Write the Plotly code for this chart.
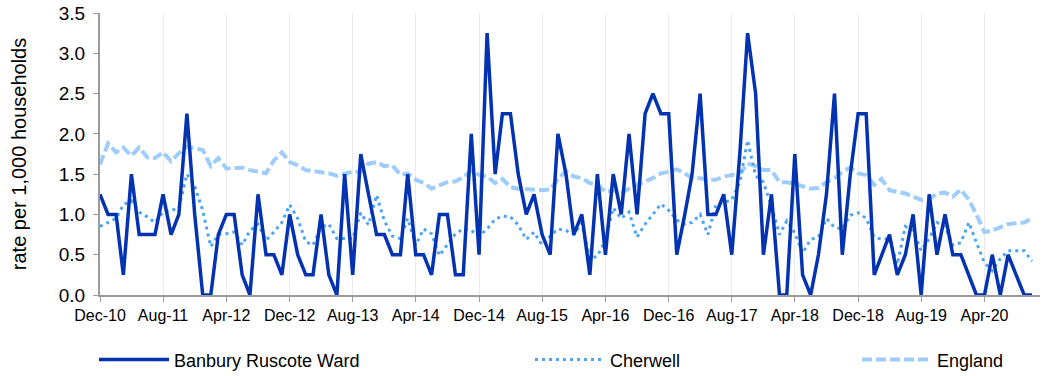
import pandas as pd
import plotly.graph_objects as go

# Monthly rates per 1,000 households, Dec 2010 – Oct 2020
months = pd.date_range("2010-12-01", periods=119, freq="MS")

banbury_ruscote = [
    1.25, 1.0, 1.0, 0.25, 1.5, 0.75, 0.75, 0.75, 1.25, 0.75,
    1.0, 2.25, 1.0, 0.0, 0.0, 0.75, 1.0, 1.0, 0.25, 0.0,
    1.25, 0.5, 0.5, 0.25, 1.0, 0.5, 0.25, 0.25, 1.0, 0.25,
    0.0, 1.5, 0.25, 1.75, 1.25, 0.75, 0.75, 0.5, 0.5, 1.5,
    0.5, 0.5, 0.25, 1.0, 1.0, 0.25, 0.25, 2.0, 0.5, 3.25,
    1.5, 2.25, 2.25, 1.5, 1.0, 1.25, 0.75, 0.5, 2.0, 1.5,
    0.75, 1.0, 0.25, 1.5, 0.5, 1.5, 1.0, 2.0, 1.0, 2.25,
    2.5, 2.25, 2.25, 0.5, 1.0, 1.5, 2.5, 1.0, 1.0, 1.25,
    0.5, 1.75, 3.25, 2.5, 0.5, 1.25, 0.0, 0.0, 1.75, 0.25,
    0.0, 0.5, 1.25, 2.5, 0.5, 1.5, 2.25, 2.25, 0.25, 0.5,
    0.75, 0.25, 0.5, 1.0, 0.0, 1.25, 0.5, 1.0, 0.5, 0.5,
    0.25, 0.0, 0.0, 0.5, 0.0, 0.5, 0.25, 0.0, 0.0,
]

cherwell = [
    0.85, 0.9, 0.95, 1.12, 1.17, 1.03, 0.97, 0.9, 1.03, 1.05,
    1.08, 1.5, 1.35, 1.05, 0.6, 0.75, 0.76, 0.78, 0.62, 0.8,
    0.88, 0.68, 0.78, 0.9, 1.12, 0.95, 0.66, 0.62, 0.84, 0.88,
    0.7, 0.7, 0.7, 1.02, 0.87, 1.24, 0.92, 0.73, 0.7, 0.95,
    0.62, 0.82, 0.76, 0.49, 0.63, 0.76, 0.82, 0.8, 0.73, 0.82,
    0.94, 0.98, 0.97, 0.87, 0.69, 0.78, 0.62, 0.73, 0.82, 0.8,
    0.75, 0.89, 0.45, 0.48, 0.68, 1.08, 0.95, 1.03, 0.72, 0.88,
    1.0, 1.13, 1.05, 0.93, 0.88, 0.9, 1.0, 0.75, 1.12, 1.15,
    1.18, 1.4, 1.92, 1.48, 1.4, 1.1, 0.75, 0.92, 0.77, 0.52,
    0.69, 0.72, 0.95, 0.84, 0.82, 0.99, 1.02, 0.95, 0.72, 0.69,
    0.7, 0.38, 0.85, 0.8, 0.55, 0.7, 0.9, 0.85, 0.62, 0.65,
    0.9, 0.65, 0.4, 0.3, 0.45, 0.55, 0.55, 0.55, 0.42,
]

england = [
    1.62, 1.88, 1.77, 1.83, 1.73, 1.83, 1.71, 1.7, 1.77, 1.66,
    1.76, 1.84, 1.82, 1.8, 1.6, 1.7, 1.57, 1.57, 1.58, 1.55,
    1.53, 1.51, 1.67, 1.77, 1.65, 1.61, 1.55, 1.54, 1.53, 1.51,
    1.48, 1.5, 1.53, 1.53, 1.63, 1.65, 1.6, 1.61, 1.49, 1.51,
    1.43, 1.39, 1.32, 1.36, 1.4, 1.41, 1.46, 1.54, 1.49, 1.47,
    1.39, 1.44, 1.34, 1.32, 1.31, 1.31, 1.3, 1.31, 1.44, 1.54,
    1.47, 1.45, 1.39, 1.37, 1.28, 1.3, 1.26, 1.32, 1.37, 1.41,
    1.45, 1.51, 1.53, 1.56, 1.51, 1.45, 1.45, 1.43, 1.43, 1.47,
    1.49, 1.51, 1.63, 1.6, 1.55, 1.55, 1.4, 1.4, 1.38, 1.35,
    1.32, 1.33, 1.4, 1.45, 1.53, 1.58, 1.51, 1.49, 1.37, 1.44,
    1.3, 1.28, 1.26, 1.22, 1.18, 1.19, 1.26, 1.27, 1.22, 1.31,
    1.18, 1.0, 0.78, 0.8, 0.84, 0.88, 0.89, 0.9, 0.95,
]

FONT = "Liberation Sans, Arial, sans-serif"
AXIS_GREY = "#9a9a9a"

fig = go.Figure()

fig.add_trace(go.Scatter(
    x=months, y=england, name="England", mode="lines",
    line=dict(color="#9fcdfb", width=4, dash="10px,4px"),
    legend="legend3",
))
fig.add_trace(go.Scatter(
    x=months, y=cherwell, name="Cherwell", mode="lines",
    line=dict(color="#4ea4f4", width=3, dash="3px,4px"),
    legend="legend2",
))
fig.add_trace(go.Scatter(
    x=months, y=banbury_ruscote, name="Banbury Ruscote Ward", mode="lines",
    line=dict(color="#0433b2", width=3.5),
    legend="legend",
))

# Legend row sits in the bottom strip of the canvas, one block per series
legend_common = dict(
    orientation="h", yref="container", yanchor="middle", y=0.043,
    xref="container", xanchor="left",
    font=dict(family=FONT, size=18, color="#000000"),
    bgcolor="rgba(0,0,0,0)", itemwidth=70,
)

fig.update_layout(
    width=1044, height=376,
    showlegend=True,
    margin=dict(l=100, r=4, t=13, b=81, autoexpand=False),
    paper_bgcolor="white", plot_bgcolor="white",
    font=dict(family=FONT, size=16, color="#000000"),
    legend=dict(x=94 / 1044, **legend_common),
    legend2=dict(x=530 / 1044, **legend_common),
    legend3=dict(x=857 / 1044, **legend_common),
    xaxis=dict(
        range=["2010-12-01", "2020-11-01"],
        tick0="2010-12-01", dtick="M8", tickformat="%b-%y",
        showgrid=True, gridcolor="#ebebeb", gridwidth=1,
        showline=True, linecolor=AXIS_GREY, linewidth=2,
        ticks="outside", ticklen=5, tickcolor=AXIS_GREY,
        tickfont=dict(family=FONT, size=16, color="#000000"),
        zeroline=False,
    ),
    yaxis=dict(
        range=[0, 3.5], dtick=0.5, tickformat=".1f",
        showgrid=False, zeroline=False,
        showline=True, linecolor=AXIS_GREY, linewidth=2,
        ticks="outside", ticklen=5, tickcolor=AXIS_GREY,
        tickfont=dict(family=FONT, size=19, color="#000000"),
        ticklabelstandoff=4,
        title=dict(text="rate per 1,000 households", standoff=27,
                   font=dict(family=FONT, size=20, color="#000000")),
    ),
)

fig.write_html("out.html")
